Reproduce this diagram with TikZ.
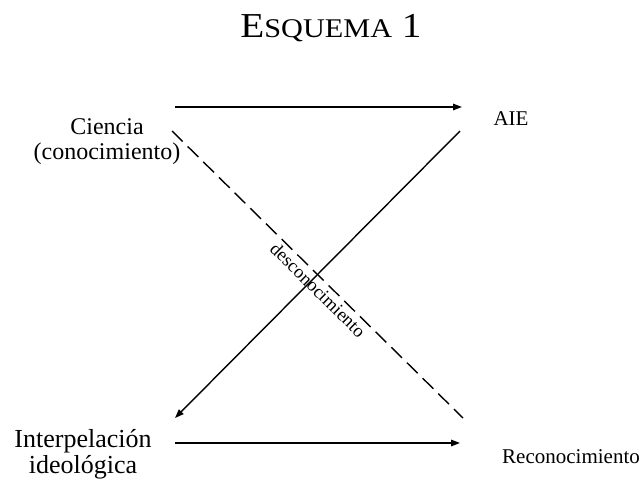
\documentclass[tikz,border=0pt]{standalone}
\usepackage{fontspec}
\setmainfont{Liberation Serif}
\usetikzlibrary{arrows.meta}
\begin{document}
\begin{tikzpicture}[x=1pt,y=-1pt,
  conn/.style={line width=1.4pt, -{Triangle[length=9pt,width=6.5pt]}},
  dashconn/.style={line width=1.4pt, dash pattern=on 15pt off 7pt},
  lbl/.style={inner sep=0pt, align=center}]
\useasboundingbox (0,0) rectangle (642,481);
\node[lbl, anchor=base] (title) at (331,38) {\scalebox{1.12}[1]{\fontsize{35}{35}\selectfont E\fontsize{27}{27}\selectfont SQUEMA\fontsize{35}{35}\selectfont{} 1}};
\node[lbl, anchor=base, font=\fontsize{24}{25}\selectfont] (ciencia) at (107,160) {Ciencia\\(conocimiento)};
\node[lbl, anchor=base, font=\fontsize{26}{26}\selectfont] (interp) at (83,473) {Interpelación\\ideológica};
\node[lbl, anchor=base, font=\fontsize{21}{25}\selectfont] (aie) at (511,126) {AIE};
\node[lbl, anchor=base, font=\fontsize{21}{25}\selectfont] (recon) at (571,463) {Reconocimiento};
\coordinate (a1) at (175,107);
\coordinate (a2) at (462,107);
\coordinate (d1) at (172,131);
\coordinate (d2) at (463,418);
\coordinate (s1) at (460,131);
\coordinate (s2) at (175,418);
\coordinate (b1) at (175,443);
\coordinate (b2) at (460,443);
\draw[conn] (a1) -- (a2);
\draw[conn] (s1) -- (s2);
\draw[conn] (b1) -- (b2);
\draw[dashconn] (d1) -- (d2);
\node[lbl, rotate=-44.6, font=\fontsize{18.5}{22}\selectfont] (desc) at (318,290) {desconocimiento};
\end{tikzpicture}
\end{document}
